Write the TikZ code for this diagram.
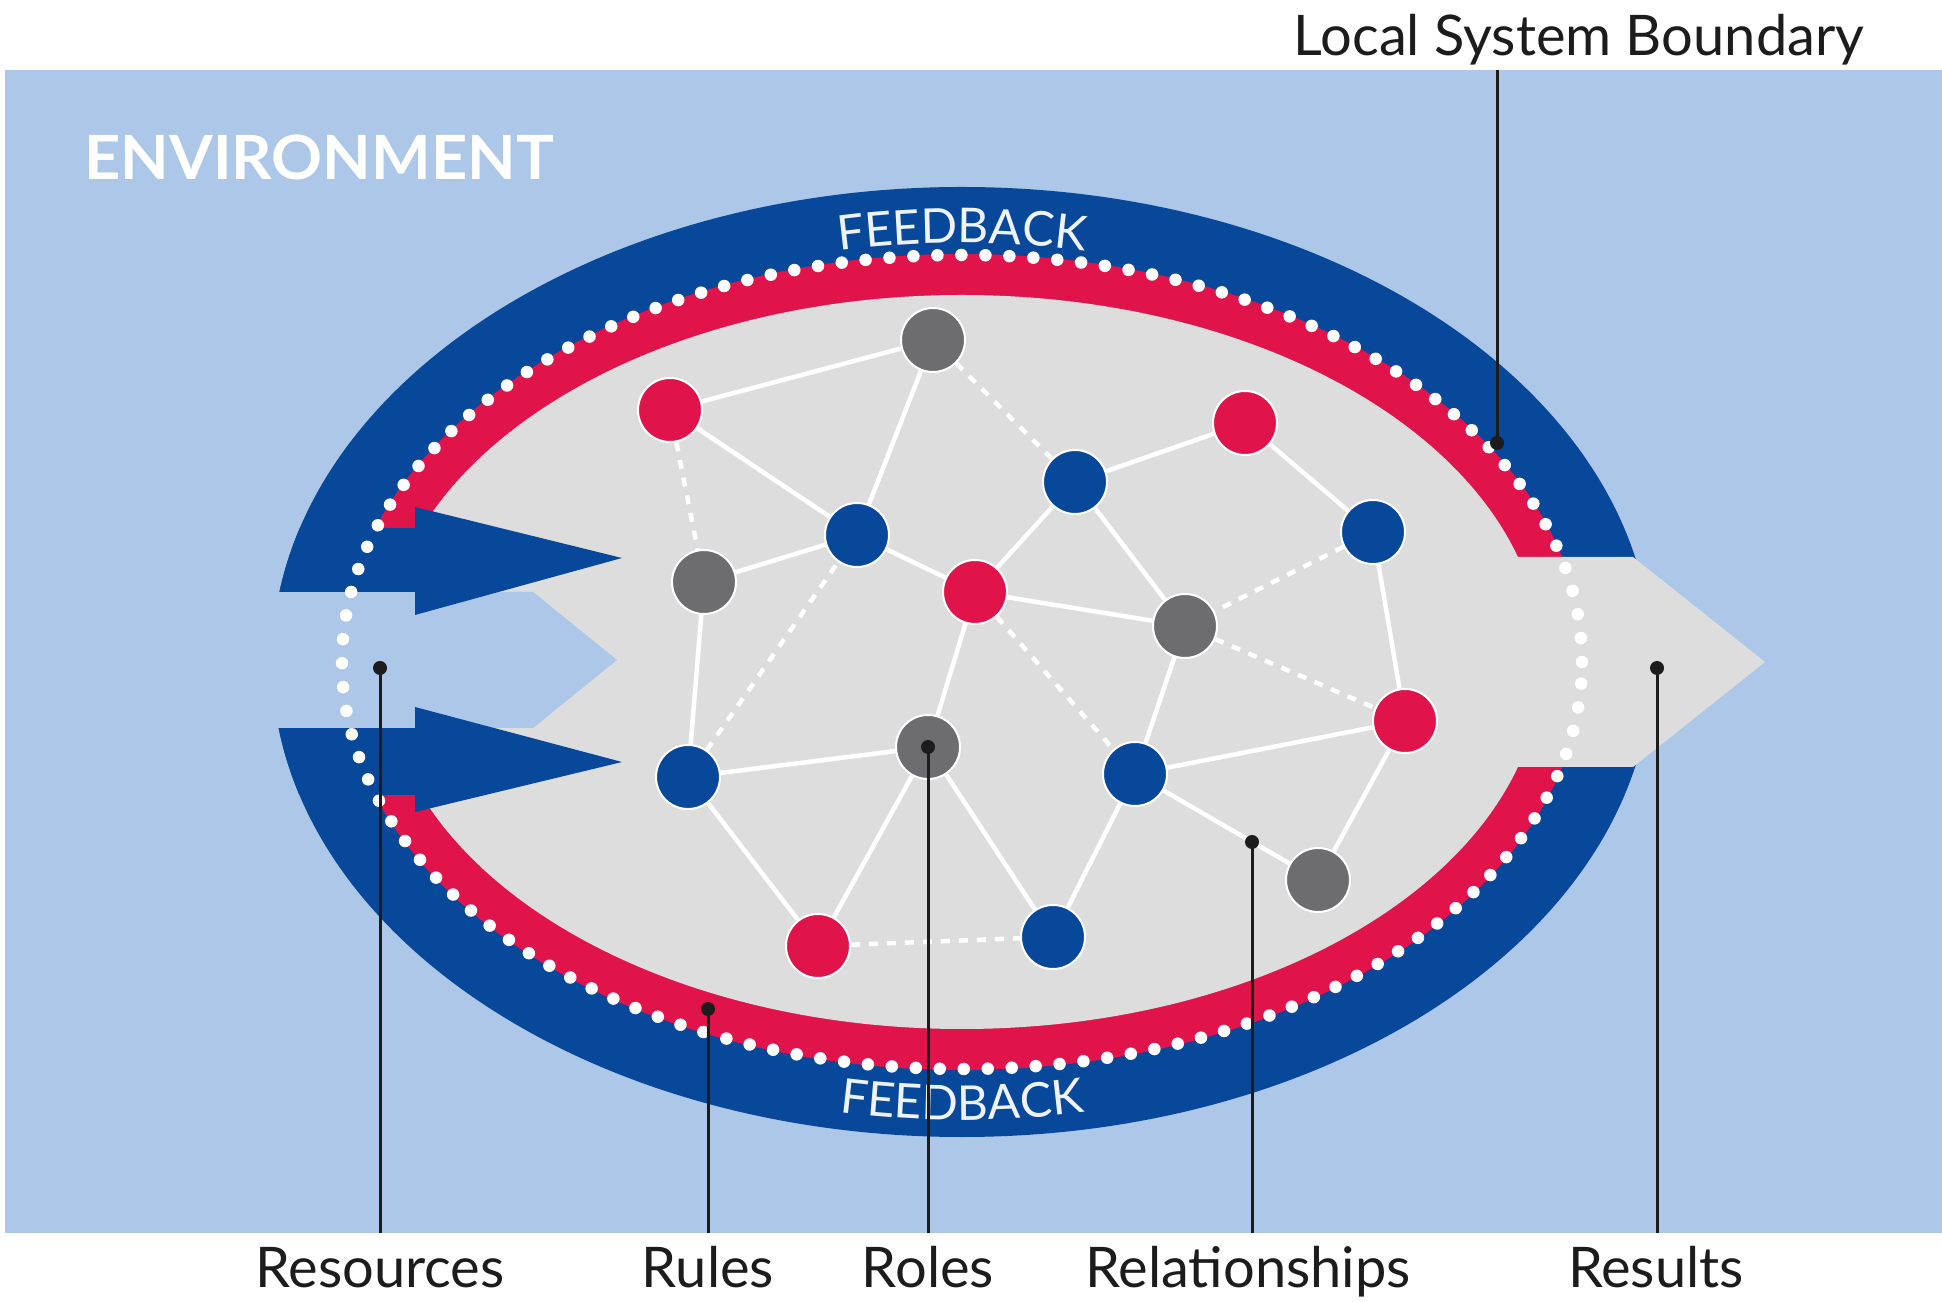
\documentclass[tikz,border=0pt]{standalone}
\usepackage{fontspec}
\setmainfont{Lato}
\usetikzlibrary{decorations.text}
\definecolor{envblue}{HTML}{ADC7E9}
\definecolor{dkblue}{HTML}{08489A}
\definecolor{rd}{HTML}{E0144A}
\definecolor{lgrey}{HTML}{DDDDDD}
\definecolor{ngrey}{HTML}{6D6D70}
\definecolor{ink}{HTML}{1C1C1C}
\definecolor{fbtext}{HTML}{EEF3FA}
\newcommand\fbfont{\fontsize{48pt}{48pt}\selectfont\color{fbtext}}
\begin{document}
\begin{tikzpicture}[x=1pt,y=1pt,
  nd/.style={circle,minimum size=64pt,inner sep=0pt,draw=white,line width=2pt},
  bn/.style={nd,fill=dkblue}, rn/.style={nd,fill=rd}, gn/.style={nd,fill=ngrey},
  edge/.style={draw=white,line width=4.5pt},
  dedge/.style={edge,dash pattern=on 9pt off 9pt},
  leader/.style={draw=ink,line width=3pt},
  ldot/.style={circle,fill=ink,minimum size=14pt,inner sep=0pt},
  lbl/.style={anchor=base,inner sep=0pt,text=ink,font=\fontsize{56pt}{60pt}\selectfont}]

\useasboundingbox (0,0) rectangle (1942,1301);
\fill[white] (0,0) rectangle (1942,1301);
\fill[envblue] (5,68) rectangle (1942,1231);
% rings
\fill[dkblue] (962,639) ellipse [x radius=690pt, y radius=475pt];
\fill[rd] (962,639) ellipse [x radius=621pt, y radius=408pt];
\fill[lgrey] (962,639) ellipse [x radius=580pt, y radius=367pt];
% results arrow
\fill[lgrey] (1400,744) -- (1633,744) -- (1765,639) -- (1633,534) -- (1400,534) -- cycle;
% resources notch
\fill[envblue] (260,709) -- (533,709) -- (617,641) -- (533,573) -- (260,573) -- cycle;
% resource arrows
\begin{scope}
\clip (962,639) ellipse [x radius=690pt, y radius=475pt];
\fill[dkblue] (260,709) rectangle (416,773);
\fill[dkblue] (260,506) rectangle (416,573);
\end{scope}
\fill[dkblue] (415,794) -- (622,743) -- (415,686) -- cycle;
\fill[dkblue] (415,594) -- (622,539) -- (415,489) -- cycle;
% dotted boundary
\draw[white, line width=12.5pt, line cap=round, dash pattern=on 0pt off 24pt] (962,639) ellipse [x radius=620pt, y radius=407pt];
% feedback texts
\path[decorate, decoration={text along path, text align=center, text={|\fbfont|FEEDBACK}}] (962,639) ++(120:634pt and 419pt) arc [start angle=120, end angle=60, x radius=634pt, y radius=419pt];
\path[decorate, decoration={text along path, text align=center, text={|\fbfont|FEEDBACK}}] (962,639) ++(240:673pt and 458pt) arc [start angle=240, end angle=300, x radius=673pt, y radius=458pt];

% nodes
\node[gn] (gt) at (933,961) {};
\node[rn] (rtl) at (670,891) {};
\node[rn] (rtr) at (1245,878) {};
\node[bn] (b4) at (1075,819) {};
\node[bn] (b5) at (857,766) {};
\node[bn] (b6) at (1373,769) {};
\node[gn] (g7) at (704,719) {};
\node[rn] (rc) at (975,709) {};
\node[gn] (g9) at (1185,675) {};
\node[rn] (rr) at (1405,580) {};
\node[bn] (b11) at (688,524) {};
\node[gn] (groles) at (928,554) {};
\node[bn] (b13) at (1135,527) {};
\node[gn] (g14) at (1318,421) {};
\node[rn] (rb) at (818,355) {};
\node[bn] (bb) at (1053,364) {};

% relationships
\foreach \a/\b in {rtl/gt, gt/b5, rtl/b5, b5/g7, b5/rc, g7/b11, rc/b4, rc/g9, rc/groles, b4/rtr, b4/g9, rtr/b6, b6/rr, g9/b13, b13/rr, b13/g14, rr/g14, b11/groles, b11/rb, groles/rb, groles/bb, b13/bb}
  \draw[edge] (\a) -- (\b);
\foreach \a/\b in {gt/b4, rtl/g7, b11/b5, rc/b13, b6/g9, g9/rr, rb/bb}
  \draw[dedge] (\a) -- (\b);

% texts
\node[anchor=base west, inner sep=0pt, text=white, font=\fontsize{61pt}{64pt}\selectfont\bfseries] (env) at (84,1121) {\scalebox{1.035}[1]{ENVIRONMENT}};
\node[lbl] (lsb) at (1579,1245) {Local System Boundary};

% leaders
\coordinate (lsbT) at (1497,1231);
\node[ldot] (lsbD) at (1497,858) {};
\draw[leader] (lsbT) -- (lsbD.center);

\node[ldot] (resD) at (380,633) {};
\coordinate (resB) at (380,68);
\draw[leader] (resD.center) -- (resB);
\node[lbl] (resL) at (380,14) {Resources};

\node[ldot] (rulD) at (708,292) {};
\coordinate (rulB) at (708,68);
\draw[leader] (rulD.center) -- (rulB);
\node[lbl] (rulL) at (708,14) {Rules};

\node[ldot] (rolD) at (groles.center) {};
\coordinate (rolB) at (928,68);
\draw[leader] (rolD.center) -- (rolB);
\node[lbl] (rolL) at (928,14) {Roles};

\node[ldot] (relD) at (1252,459) {};
\coordinate (relB) at (1252,68);
\draw[leader] (relD.center) -- (relB);
\node[lbl] (relL) at (1248,14) {Relationships};

\node[ldot] (rsD) at (1657,633) {};
\coordinate (rsB) at (1657,68);
\draw[leader] (rsD.center) -- (rsB);
\node[lbl] (rsL) at (1656,14) {Results};
\end{tikzpicture}
\end{document}
